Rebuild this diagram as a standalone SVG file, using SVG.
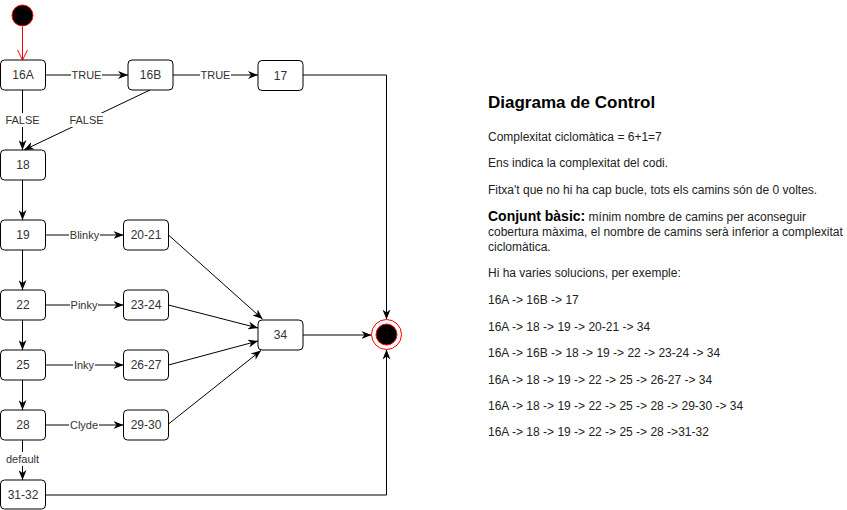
<svg xmlns="http://www.w3.org/2000/svg" width="847" height="510" viewBox="0 0 847 510">
<style>
.n rect{fill:#fff;stroke:#000;stroke-width:1}
.n text{font-family:"Liberation Sans",Arial,sans-serif;font-size:12px;fill:#333;text-anchor:middle}
.e{fill:none;stroke:#000;stroke-width:1}
.lb rect{fill:#fff}
.lb text{font-family:"Liberation Sans",Arial,sans-serif;font-size:11px;fill:#333;text-anchor:middle}
.t{font-family:"Liberation Sans",Arial,sans-serif;font-size:12px;fill:#222}
</style>
<defs>
<marker id="arr" viewBox="0 0 10 8" refX="10" refY="4" markerWidth="10" markerHeight="8" markerUnits="userSpaceOnUse" orient="auto"><path d="M0,0 L10,4 L0,8 L3,4 z" fill="#000"/></marker>
<marker id="open" viewBox="0 0 12 12" refX="11" refY="6" markerWidth="12" markerHeight="12" markerUnits="userSpaceOnUse" orient="auto"><path d="M1,1 L11,6 L1,11" fill="none" stroke="#f00" stroke-width="1"/></marker>
</defs>
<rect width="847" height="510" fill="#fff"/>
<g id="connectors">
<path class="e" d="M22.5,27 L22.5,60" stroke="#f00" style="stroke:#f00" marker-end="url(#open)"/>
<path class="e" d="M45,75 L128,75" marker-end="url(#arr)"/>
<path class="e" d="M173,75 L258,75" marker-end="url(#arr)"/>
<path class="e" d="M303,75 L386.5,75 L386.5,319.5" marker-end="url(#arr)"/>
<path class="e" d="M22.5,90 L22.5,150" marker-end="url(#arr)"/>
<path class="e" d="M150,90 L24,150" marker-end="url(#arr)"/>
<path class="e" d="M22.5,180 L22.5,220" marker-end="url(#arr)"/>
<path class="e" d="M45,235 L123.5,235" marker-end="url(#arr)"/>
<path class="e" d="M22.5,250 L22.5,290" marker-end="url(#arr)"/>
<path class="e" d="M45,305 L123.5,305" marker-end="url(#arr)"/>
<path class="e" d="M22.5,320 L22.5,350" marker-end="url(#arr)"/>
<path class="e" d="M45,365 L123.5,365" marker-end="url(#arr)"/>
<path class="e" d="M22.5,380 L22.5,410" marker-end="url(#arr)"/>
<path class="e" d="M45,425 L123.5,425" marker-end="url(#arr)"/>
<path class="e" d="M22.5,440 L22.5,480" marker-end="url(#arr)"/>
<path class="e" d="M45,495 L386.5,495 L386.5,349.5" marker-end="url(#arr)"/>
<path class="e" d="M168.5,235 L262.5,319" marker-end="url(#arr)"/>
<path class="e" d="M168.5,305 L258,328" marker-end="url(#arr)"/>
<path class="e" d="M168.5,365 L258,341" marker-end="url(#arr)"/>
<path class="e" d="M168.5,424 L261,350.5" marker-end="url(#arr)"/>
<path class="e" d="M303,335 L371.5,335" marker-end="url(#arr)"/>
<g class="lb">
<rect x="71" y="68" width="31" height="14"/><text x="86.5" y="79">TRUE</text>
<rect x="200" y="68" width="31" height="14"/><text x="215.5" y="79">TRUE</text>
<rect x="4" y="113" width="37" height="14"/><text x="22.5" y="124">FALSE</text>
<rect x="68" y="113" width="37" height="14"/><text x="86.5" y="124">FALSE</text>
<rect x="69" y="228" width="31" height="14"/><text x="84.5" y="239">Blinky</text>
<rect x="70" y="298" width="28" height="14"/><text x="84" y="309">Pinky</text>
<rect x="73" y="358" width="22" height="14"/><text x="84" y="369">Inky</text>
<rect x="69" y="418" width="30" height="14"/><text x="84" y="429">Clyde</text>
<rect x="4" y="452" width="37" height="14"/><text x="22.5" y="463">default</text>
</g>
</g>
<g id="start"><circle cx="22.5" cy="15.5" r="10.5" fill="#000" stroke="#f00"/></g>
<g id="end"><circle cx="386.5" cy="334.5" r="15" fill="#fff" stroke="#f00"/><circle cx="386.5" cy="334.5" r="10.5" fill="#000" stroke="#f00"/></g>
<g id="n16A" class="n"><rect x="0.5" y="60" width="45" height="30" rx="4"/><text x="23" y="79">16A</text></g>
<g id="n16B" class="n"><rect x="128" y="60" width="45" height="30" rx="4"/><text x="150.5" y="79">16B</text></g>
<g id="n17" class="n"><rect x="258" y="60.5" width="45" height="30" rx="4"/><text x="280.5" y="79.5">17</text></g>
<g id="n18" class="n"><rect x="0.5" y="150" width="45" height="30" rx="4"/><text x="23" y="169">18</text></g>
<g id="n19" class="n"><rect x="0.5" y="220" width="45" height="30" rx="4"/><text x="23" y="239">19</text></g>
<g id="n20-21" class="n"><rect x="123.5" y="220" width="45" height="30" rx="4"/><text x="146" y="239">20-21</text></g>
<g id="n22" class="n"><rect x="0.5" y="290" width="45" height="30" rx="4"/><text x="23" y="309">22</text></g>
<g id="n23-24" class="n"><rect x="123.5" y="290" width="45" height="30" rx="4"/><text x="146" y="309">23-24</text></g>
<g id="n25" class="n"><rect x="0.5" y="350" width="45" height="30" rx="4"/><text x="23" y="369">25</text></g>
<g id="n26-27" class="n"><rect x="123.5" y="350" width="45" height="30" rx="4"/><text x="146" y="369">26-27</text></g>
<g id="n28" class="n"><rect x="0.5" y="410" width="45" height="30" rx="4"/><text x="23" y="429">28</text></g>
<g id="n29-30" class="n"><rect x="123.5" y="410" width="45" height="30" rx="4"/><text x="146" y="429">29-30</text></g>
<g id="n31-32" class="n"><rect x="0.5" y="480" width="45" height="29" rx="4"/><text x="23" y="499">31-32</text></g>
<g id="n34" class="n"><rect x="258" y="320" width="45" height="30" rx="4"/><text x="280.5" y="339">34</text></g>
<g id="notes">
<text x="488" y="108" font-family="Liberation Sans, Arial, sans-serif" font-size="17" font-weight="bold" fill="#000">Diagrama de Control</text>
<text class="t" x="488" y="141">Complexitat ciclomàtica = 6+1=7</text>
<text class="t" x="488" y="167">Ens indica la complexitat del codi.</text>
<text class="t" x="488" y="194">Fitxa't que no hi ha cap bucle, tots els camins són de 0 voltes.</text>
<text class="t" x="488" y="221"><tspan font-weight="bold" font-size="14" fill="#000">Conjunt bàsic:</tspan> mínim nombre de camins per aconseguir</text>
<text class="t" x="488" y="236">cobertura màxima, el nombre de camins serà inferior a complexitat</text>
<text class="t" x="488" y="251">ciclomàtica.</text>
<text class="t" x="488" y="277">Hi ha varies solucions, per exemple:</text>
<text class="t" x="488" y="304">16A -&gt; 16B -&gt; 17</text>
<text class="t" x="488" y="331">16A -&gt; 18 -&gt; 19 -&gt; 20-21 -&gt; 34</text>
<text class="t" x="488" y="357">16A -&gt; 16B -&gt; 18 -&gt; 19 -&gt; 22 -&gt; 23-24 -&gt; 34</text>
<text class="t" x="488" y="384">16A -&gt; 18 -&gt; 19 -&gt; 22 -&gt; 25 -&gt; 26-27 -&gt; 34</text>
<text class="t" x="488" y="410">16A -&gt; 18 -&gt; 19 -&gt; 22 -&gt; 25 -&gt; 28 -&gt; 29-30 -&gt; 34</text>
<text class="t" x="488" y="436">16A -&gt; 18 -&gt; 19 -&gt; 22 -&gt; 25 -&gt; 28 -&gt;31-32</text>
</g>
</svg>
